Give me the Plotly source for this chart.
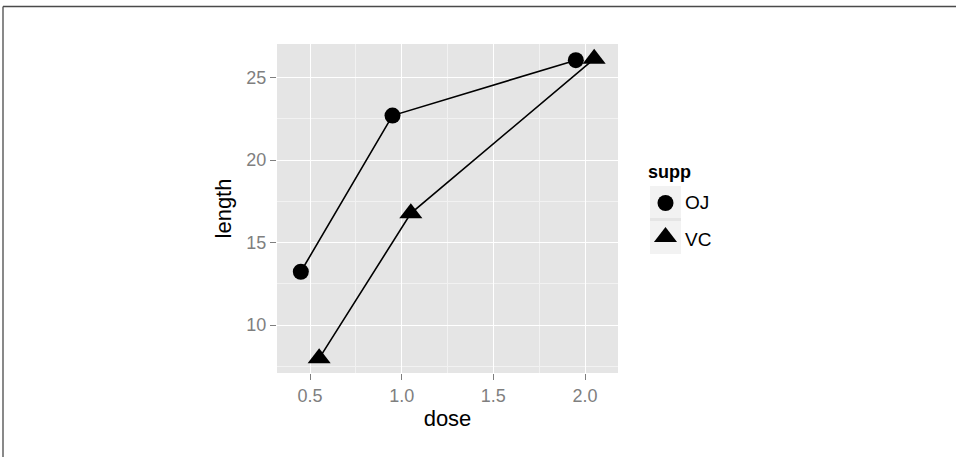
import plotly.graph_objects as go

# ---- data ----
dose = [0.5, 1.0, 2.0]
oj_length = [13.23, 22.70, 26.06]
vc_length = [7.98, 16.77, 26.14]
supp_labels = ["OJ", "VC"]
x_ticks = [0.5, 1.0, 1.5, 2.0]
x_ticklabels = ["0.5", "1.0", "1.5", "2.0"]
y_ticks = [10, 15, 20, 25]
dodge = 0.05

W, H = 956, 457
# plot panel pixel box
PX0, PX1, PY0, PY1 = 277, 618, 44, 373

def px(x):
    return x / W

def py(y):
    return 1 - y / H

FONT = "Liberation Sans, Arial, Helvetica, sans-serif"
TICKCOL = "#7f7f7f"

fig = go.Figure()

fig.add_trace(go.Scatter(
    x=[d - dodge for d in dose], y=oj_length, mode="lines+markers",
    line=dict(color="black", width=1.6),
    marker=dict(symbol="circle", size=16, color="black"),
    name="OJ", showlegend=False, hoverinfo="skip"))
fig.add_trace(go.Scatter(
    x=[d + dodge for d in dose], y=vc_length, mode="lines+markers",
    line=dict(color="black", width=1.6),
    marker=dict(symbol="triangle-up", size=20, color="black"),
    name="VC", showlegend=False, hoverinfo="skip"))

# legend markers on a small auxiliary axis
fig.add_trace(go.Scatter(
    x=[0.5], y=[1.5], mode="markers", xaxis="x2", yaxis="y2",
    marker=dict(symbol="circle", size=16, color="black"),
    showlegend=False, hoverinfo="skip"))
fig.add_trace(go.Scatter(
    x=[0.5], y=[0.5], mode="markers", xaxis="x2", yaxis="y2",
    marker=dict(symbol="triangle-up", size=20, color="black"),
    showlegend=False, hoverinfo="skip"))

shapes = [
    # legend key backgrounds
    dict(type="rect", xref="paper", yref="paper", x0=px(650), x1=px(681),
         y0=py(218), y1=py(186), fillcolor="#f2f2f2", line=dict(width=0), layer="below"),
    dict(type="rect", xref="paper", yref="paper", x0=px(650), x1=px(681),
         y0=py(254), y1=py(221), fillcolor="#f2f2f2", line=dict(width=0), layer="below"),
    # outer frame lines (top and left)
    dict(type="line", xref="paper", yref="paper", x0=px(3), x1=px(956),
         y0=py(6.5), y1=py(6.5), line=dict(color="#4a4a4a", width=1.3)),
    dict(type="line", xref="paper", yref="paper", x0=px(3), x1=px(3),
         y0=py(6.5), y1=py(457), line=dict(color="#4a4a4a", width=1.3)),
]

annotations = [
    dict(text="<b>supp</b>", xref="paper", yref="paper", x=px(646), y=py(172),
         xanchor="left", yanchor="middle", showarrow=False,
         font=dict(family=FONT, size=18, color="black")),
    dict(text=supp_labels[0], xref="paper", yref="paper", x=px(683), y=py(203),
         xanchor="left", yanchor="middle", showarrow=False,
         font=dict(family=FONT, size=19, color="black")),
    dict(text=supp_labels[1], xref="paper", yref="paper", x=px(683), y=py(239),
         xanchor="left", yanchor="middle", showarrow=False,
         font=dict(family=FONT, size=19, color="black")),
]

fig.update_layout(
    width=W, height=H,
    margin=dict(l=0, r=0, t=0, b=0),
    paper_bgcolor="white",
    plot_bgcolor="#e5e5e5",
    font=dict(family=FONT),
    shapes=shapes,
    annotations=annotations,
    xaxis=dict(
        domain=[px(PX0), px(PX1)], range=[0.32, 2.18],
        tickvals=x_ticks, ticktext=x_ticklabels,
        ticks="outside", ticklen=6, tickwidth=1.2, tickcolor=TICKCOL,
        tickfont=dict(family=FONT, size=18, color=TICKCOL),
        showgrid=True, gridcolor="white", gridwidth=1.4,
        minor=dict(dtick=0.25, tick0=0.25, showgrid=True, gridcolor="#f2f2f2", gridwidth=0.6),
        zeroline=False, showline=False,
        title=dict(text="dose", font=dict(family=FONT, size=22, color="black"), standoff=6),
        anchor="y", fixedrange=True,
    ),
    yaxis=dict(
        domain=[py(PY1), py(PY0)], range=[7.09, 27.04],
        tickvals=y_ticks,
        ticks="outside", ticklen=6, tickwidth=1.2, tickcolor=TICKCOL,
        tickfont=dict(family=FONT, size=18, color=TICKCOL),
        showgrid=True, gridcolor="white", gridwidth=1.4,
        minor=dict(dtick=2.5, tick0=0, showgrid=True, gridcolor="#f2f2f2", gridwidth=0.6),
        zeroline=False, showline=False,
        title=dict(text="length", font=dict(family=FONT, size=22, color="black"), standoff=8),
        anchor="x", fixedrange=True,
    ),
    xaxis2=dict(domain=[px(650), px(681)], range=[0, 1], visible=False,
                anchor="y2", fixedrange=True),
    yaxis2=dict(domain=[py(254), py(186)], range=[0, 2], visible=False,
                anchor="x2", fixedrange=True),
)

fig.write_html("out.html", config={"displayModeBar": False},
               post_script="document.body.style.margin='0';document.body.style.overflow='hidden';")
